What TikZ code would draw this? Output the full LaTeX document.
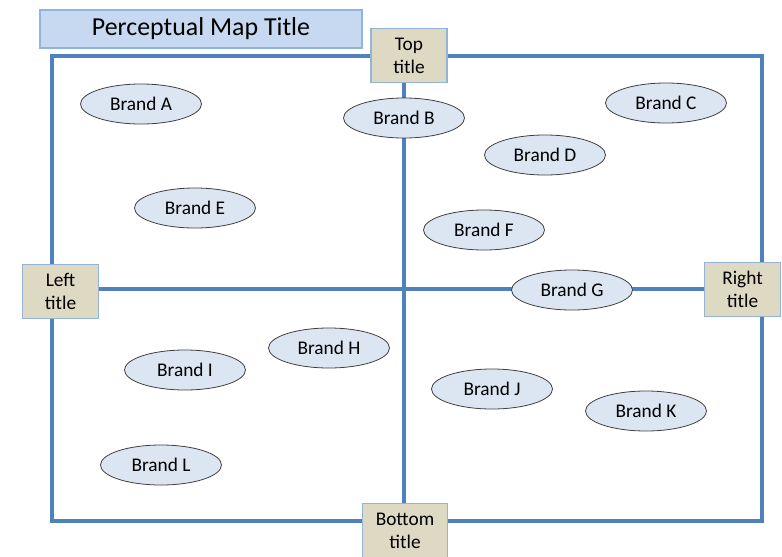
\documentclass[tikz,border=0pt]{standalone}
\usepackage{fontspec}
\setmainfont{Carlito}
\usetikzlibrary{shapes,backgrounds}
\definecolor{axisblue}{HTML}{4F81BD}
\definecolor{titlefill}{HTML}{C6D9F1}
\definecolor{titleline}{HTML}{8EB4E3}
\definecolor{tagfill}{HTML}{DDD9C3}
\definecolor{tagline}{HTML}{95B3D7}
\definecolor{brandfill}{HTML}{DCE6F2}
\definecolor{brandline}{HTML}{404040}

\begin{document}
\begin{tikzpicture}[x=0.75pt, y=-0.75pt,
    brand/.style={ellipse, draw=brandline, fill=brandfill, line width=0.6pt,
      minimum width=90.75pt, minimum height=30pt, inner sep=0pt,
      font=\fontsize{14.5}{17}\selectfont},
    tag/.style={rectangle, draw=tagline, fill=tagfill, line width=0.8pt,
      minimum width=57pt, minimum height=41pt, inner sep=0pt, align=center,
      font=\fontsize{14.5}{17.25}\selectfont},
    axis/.style={draw=axisblue, line width=3pt}]
%      \draw [help lines] (0,0) grid [step=50] (782,557);
      \useasboundingbox (0,0) rectangle (782,557);

      \node [rectangle, draw=titleline, fill=titlefill, line width=0.8pt,
        minimum width=241.5pt, minimum height=28.5pt,
        font=\fontsize{19.4}{22}\selectfont] (maptitle) at (201,29) {Perceptual Map Title};

      % frame corners and axis ends
      \coordinate (nw) at (52,56);
      \coordinate (se) at (762,521);
      \coordinate (ytop) at (404,56);
      \coordinate (ybot) at (404,521);
      \coordinate (xleft) at (52,289);
      \coordinate (xright) at (762,289);

      % axis titles
      \node [tag] (top) at (409,55.5) {Top\\title};
      \node [tag, minimum width=63.75pt] (bottom) at (405,530.5) {Bottom\\title};
      \node [tag] (left) at (60.5,291.5) {Left\\title};
      \node [tag] (right) at (742.5,289.5) {Right\\title};

      % brands
      \node [brand] (brandA) at (141,104) {Brand A};
      \node [brand] (brandB) at (404,118) {Brand B};
      \node [brand] (brandC) at (666,103) {Brand C};
      \node [brand] (brandD) at (545,155) {Brand D};
      \node [brand] (brandE) at (195,208) {Brand E};
      \node [brand] (brandF) at (484,230) {Brand F};
      \node [brand] (brandG) at (572,290) {Brand G};
      \node [brand] (brandH) at (329,348) {Brand H};
      \node [brand] (brandI) at (185,370) {Brand I};
      \node [brand] (brandJ) at (492,389) {Brand J};
      \node [brand] (brandK) at (646,411) {Brand K};
      \node [brand] (brandL) at (161,465) {Brand L};

      \begin{pgfonlayer}{background}
        \draw [axis] (nw) rectangle (se);
        \draw [axis] (ytop) -- (ybot);
        \draw [axis] (xleft) -- (xright);
      \end{pgfonlayer}

    \end{tikzpicture}
\end{document}
